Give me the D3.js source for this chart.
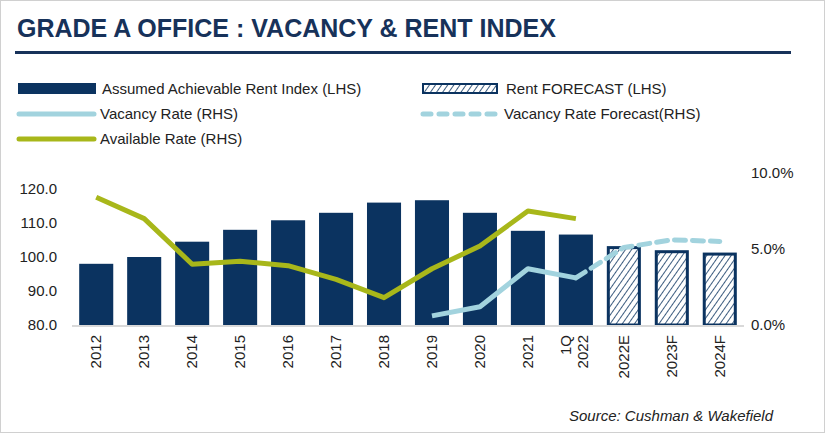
<!DOCTYPE html><html><head><meta charset="utf-8"><script src="https://cdn.jsdelivr.net/npm/d3@7"></script>
<style>body{margin:0;background:#fff}svg{font-family:Arial,"Liberation Sans",sans-serif}</style></head><body><svg width="825" height="433"></svg>
<script>
const categories=["2012","2013","2014","2015","2016","2017","2018","2019","2020","2021","1Q 2022","2022E","2023F","2024F"];
const rentIndex=[98,100,104.5,108,110.8,113,116,116.7,113,107.7,106.6,null,null,null];
const rentForecast=[null,null,null,null,null,null,null,null,null,null,null,103.2,102,101.3];
const vacancy=[null,null,null,null,null,null,null,0.6,1.2,3.7,3.1,null,null,null];
const vacancyForecast=[null,null,null,null,null,null,null,null,null,null,3.1,5.1,5.6,5.5];
const available=[8.4,7.0,4.0,4.2,3.9,3.0,1.8,3.7,5.2,7.5,7.0,null,null,null];
const leftTicks=[80,90,100,110,120];
const rightTicks=[0,5,10];
const navy="#0b3360",lb="#a2d3de",green="#a8b71a";
const svg=d3.select("svg");
svg.append("rect").attr("x",0.5).attr("y",0.5).attr("width",824).attr("height",432).attr("fill","none").attr("stroke","#d0d0d0");
svg.append("text").attr("x",17).attr("y",37).attr("font-size",25).attr("font-weight","bold").attr("fill","#17325a").text("GRADE A OFFICE : VACANCY & RENT INDEX");
svg.append("rect").attr("x",15).attr("y",51).attr("width",776).attr("height",3).attr("fill","#17325a");
const defs=svg.append("defs");
const p=defs.append("pattern").attr("id","hatch").attr("patternUnits","userSpaceOnUse").attr("width",5).attr("height",5).attr("patternTransform","rotate(35)");
p.append("rect").attr("width",5).attr("height",5).attr("fill","#fff");
p.append("line").attr("x1",0).attr("y1",0).attr("x2",0).attr("y2",5).attr("stroke",navy).attr("stroke-width",1.6);
const x=d3.scaleBand().domain(categories).range([72,744]).paddingInner(0.29).paddingOuter(0.15);
const yL=d3.scaleLinear().domain([80,120]).range([325,189]);
const yR=d3.scaleLinear().domain([0,10]).range([325,173]);
const g=svg.append("g");
g.selectAll(".b").data(categories).enter().filter((d,i)=>rentIndex[i]!=null).append("rect")
 .attr("x",d=>x(d)).attr("width",x.bandwidth()).attr("y",d=>yL(rentIndex[categories.indexOf(d)])).attr("height",d=>325-yL(rentIndex[categories.indexOf(d)])).attr("fill",navy);
g.selectAll(".f").data(categories).enter().filter((d,i)=>rentForecast[i]!=null).append("rect")
 .attr("x",d=>x(d)+1.5).attr("width",x.bandwidth()-3).attr("y",d=>yL(rentForecast[categories.indexOf(d)])+1.5).attr("height",d=>325-yL(rentForecast[categories.indexOf(d)])-1.5).attr("fill","url(#hatch)").attr("stroke",navy).attr("stroke-width",3);
g.append("line").attr("x1",72).attr("x2",744).attr("y1",326).attr("y2",326).attr("stroke","#d9d9d9").attr("stroke-width",2);
const cx=d=>x(d)+x.bandwidth()/2;
function line(vals,color,dash){
 const l=d3.line().defined(d=>d.v!=null).x(d=>cx(d.c)).y(d=>yR(d.v));
 const p=g.append("path").datum(categories.map((c,i)=>({c,v:vals[i]}))).attr("d",l).attr("fill","none").attr("stroke",color).attr("stroke-width",5).attr("stroke-linejoin","round");
 if(dash)p.attr("stroke-dasharray","11,7").attr("stroke-linecap","round");
}
line(vacancy,lb);line(vacancyForecast,lb,true);line(available,green);
const axL=svg.append("g").attr("transform","translate(60,0)").call(d3.axisLeft(yL).tickValues(leftTicks).tickFormat(d3.format(".1f")).tickSize(0));
const axR=svg.append("g").attr("transform","translate(748,0)").call(d3.axisRight(yR).tickValues(rightTicks).tickFormat(d=>d.toFixed(1)+"%").tickSize(0));
[axL,axR].forEach(a=>{a.select(".domain").remove();a.selectAll("text").attr("font-size",15).attr("fill","#222").attr("font-family","Arial,'Liberation Sans',sans-serif");});
axR.selectAll("text").attr("dx",-0);
const axB=svg.append("g").attr("transform","translate(0,326)").call(d3.axisBottom(x).tickSize(0));
axB.select(".domain").remove();
axB.selectAll("text").attr("font-size",15).attr("fill","#222").attr("font-family","Arial,'Liberation Sans',sans-serif").attr("transform","rotate(-90)").attr("text-anchor","end").attr("x",-9).attr("y",0).attr("dy","0.35em");
axB.selectAll(".tick").filter(d=>d==="1Q 2022").select("text").text(null).call(t=>{t.append("tspan").attr("x",-9).attr("dy","-0.3em").text("1Q");t.append("tspan").attr("x",-9).attr("dy","1.1em").text("2022");});
svg.append("text").attr("x",773).attr("y",421).attr("text-anchor","end").attr("font-size",15).attr("font-style","italic").attr("fill","#222").text("Source: Cushman & Wakefield");
const lg=svg.append("g").attr("font-size",15).attr("fill","#222");
function item(xx,yy,type,label){
 if(type==="bar")lg.append("rect").attr("x",xx).attr("y",yy-6).attr("width",78).attr("height",11).attr("fill",navy);
 if(type==="hatch")lg.append("rect").attr("x",xx+1).attr("y",yy-5).attr("width",74).attr("height",9).attr("fill","url(#hatch)").attr("stroke",navy).attr("stroke-width",2);
 if(type==="line"||type==="green")lg.append("line").attr("x1",xx+3).attr("x2",xx+78).attr("y1",yy).attr("y2",yy).attr("stroke",type==="line"?lb:green).attr("stroke-width",5).attr("stroke-linecap","round");
 if(type==="dash")lg.append("line").attr("x1",xx+3).attr("x2",xx+78).attr("y1",yy).attr("y2",yy).attr("stroke",lb).attr("stroke-width",5).attr("stroke-linecap","round").attr("stroke-dasharray","8,8");
 lg.append("text").attr("x",xx+84).attr("y",yy+5).text(label);
}
item(18,89,"bar","Assumed Achievable Rent Index (LHS)");
item(422,89,"hatch","Rent FORECAST (LHS)");
item(16,114,"line","Vacancy Rate (RHS)");
item(420,114,"dash","Vacancy Rate Forecast(RHS)");
item(16,139,"green","Available Rate (RHS)");
</script></body></html>
